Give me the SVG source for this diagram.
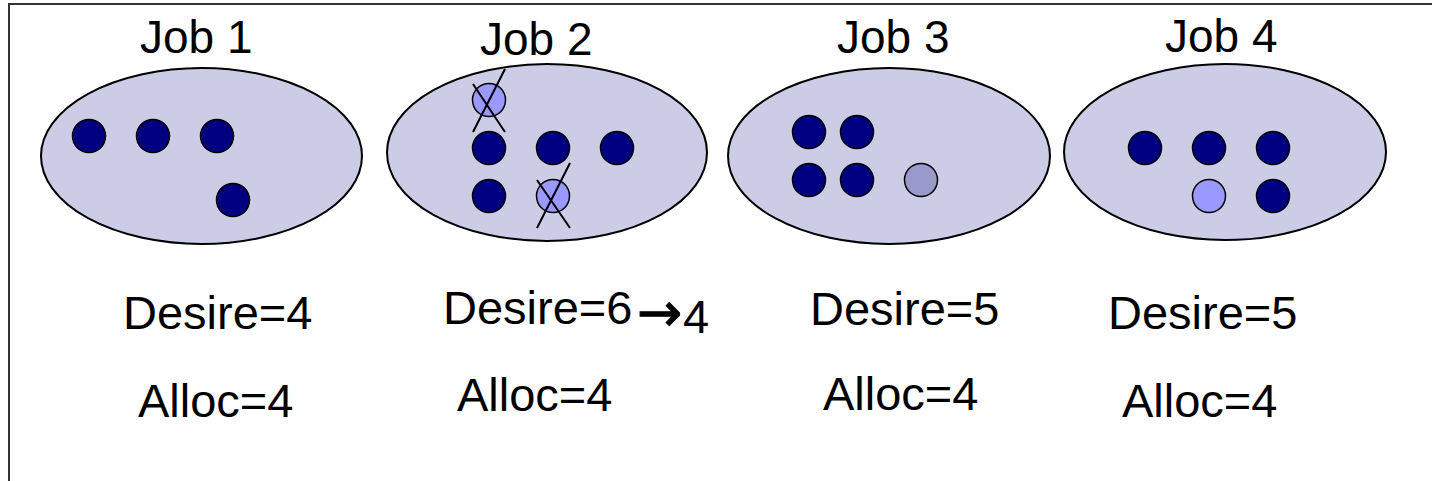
<svg xmlns="http://www.w3.org/2000/svg" width="1432" height="481" viewBox="0 0 1432 481">
  <style>
    .frame { fill: none; stroke: #333; stroke-width: 2; }
    .job { fill: #ccccE6; stroke: #000; stroke-width: 2; }
    .task { stroke: #000; stroke-width: 1.5; }
    .run { fill: #000080; }
    .idle { fill: #9999ff; }
    .wait { fill: #9999cc; }
    .cross { stroke: #000; stroke-width: 2; fill: none; }
    .title { font-family: "Liberation Sans", Arial, sans-serif; font-size: 46px; fill: #000; }
    .label { font-family: "Liberation Sans", Arial, sans-serif; font-size: 47px; fill: #000; }
    .sym { font-family: "DejaVu Sans", sans-serif; font-size: 54px; fill: #000; stroke: #000; stroke-width: 1; }
  </style>

  <path class="frame" d="M9,481 V4 H1432"/>

  <g id="job1">
    <text class="title" x="140" y="53">Job 1</text>
    <ellipse class="job" cx="201.5" cy="156" rx="160.5" ry="88"/>
    <circle class="task run" cx="89" cy="136" r="16.5"/>
    <circle class="task run" cx="153" cy="136" r="16.5"/>
    <circle class="task run" cx="217" cy="136" r="16.5"/>
    <circle class="task run" cx="233" cy="200" r="16.5"/>
    <text class="label" x="123" y="329">Desire=4</text>
    <text class="label" x="138" y="417">Alloc=4</text>
  </g>

  <g id="job2">
    <text class="title" x="480" y="55">Job 2</text>
    <ellipse class="job" cx="547" cy="152.5" rx="160" ry="88.5"/>
    <circle class="task idle" cx="489" cy="100" r="16.5"/>
    <circle class="task run" cx="489" cy="148" r="16.5"/>
    <circle class="task run" cx="553" cy="148" r="16.5"/>
    <circle class="task run" cx="617" cy="148" r="16.5"/>
    <circle class="task run" cx="489" cy="196" r="16.5"/>
    <circle class="task idle" cx="553" cy="196" r="16.5"/>
    <path class="cross" d="M505,69 L473,132 M473,84 L505,132"/>
    <path class="cross" d="M570,163 L537,228 M537,180 L570,228"/>
    <text class="label" x="443" y="324">Desire=6</text>
    <text class="sym" x="637" y="331">→</text>
    <text class="label" x="683" y="333">4</text>
    <text class="label" x="457" y="411">Alloc=4</text>
  </g>

  <g id="job3">
    <text class="title" x="837" y="53">Job 3</text>
    <ellipse class="job" cx="889" cy="156" rx="161" ry="88"/>
    <circle class="task run" cx="809" cy="132" r="16.5"/>
    <circle class="task run" cx="857" cy="132" r="16.5"/>
    <circle class="task run" cx="809" cy="180" r="16.5"/>
    <circle class="task run" cx="857" cy="180" r="16.5"/>
    <circle class="task wait" cx="921" cy="180" r="16.5"/>
    <text class="label" x="810" y="325">Desire=5</text>
    <text class="label" x="823" y="410">Alloc=4</text>
  </g>

  <g id="job4">
    <text class="title" x="1165" y="52">Job 4</text>
    <ellipse class="job" cx="1225" cy="152" rx="161" ry="88"/>
    <circle class="task run" cx="1145" cy="148" r="16.5"/>
    <circle class="task run" cx="1209" cy="148" r="16.5"/>
    <circle class="task run" cx="1273" cy="148" r="16.5"/>
    <circle class="task idle" cx="1209" cy="196" r="16.5"/>
    <circle class="task run" cx="1273" cy="196" r="16.5"/>
    <text class="label" x="1108" y="329">Desire=5</text>
    <text class="label" x="1122" y="417">Alloc=4</text>
  </g>

  <g id="connectors"></g>
</svg>
